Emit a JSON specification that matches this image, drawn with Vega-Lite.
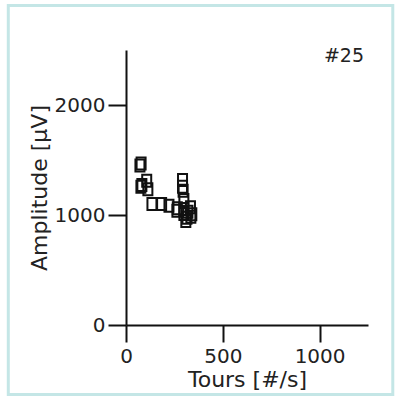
{
  "$schema": "https://vega.github.io/schema/vega-lite/v6.json",
  "autosize": "none",
  "width": 242,
  "height": 275,
  "padding": {"left": 126, "top": 50, "right": 30, "bottom": 75},
  "background": "white",
  "config": {
    "view": {"stroke": null},
    "font": "DejaVu Sans",
    "axis": {
      "domainColor": "#111",
      "domainWidth": 2,
      "tickColor": "#111",
      "tickWidth": 2,
      "tickSize": 17,
      "grid": false,
      "labelFont": "DejaVu Sans",
      "labelFontSize": 20,
      "labelColor": "#222",
      "titleFont": "DejaVu Sans",
      "titleFontSize": 22,
      "titleFontWeight": "normal",
      "titleColor": "#222"
    }
  },
  "datasets": {
    "pts": [
      {"tours": 72, "amp": 1450},
      {"tours": 78, "amp": 1468},
      {"tours": 107, "amp": 1312},
      {"tours": 77, "amp": 1257},
      {"tours": 113, "amp": 1234},
      {"tours": 82, "amp": 1272},
      {"tours": 134, "amp": 1100},
      {"tours": 184, "amp": 1100},
      {"tours": 222, "amp": 1085},
      {"tours": 263, "amp": 1039},
      {"tours": 299, "amp": 1009},
      {"tours": 292, "amp": 1318},
      {"tours": 292, "amp": 1257},
      {"tours": 295, "amp": 1221},
      {"tours": 299, "amp": 1136},
      {"tours": 265, "amp": 1061},
      {"tours": 299, "amp": 1055},
      {"tours": 333, "amp": 1070},
      {"tours": 340, "amp": 1006},
      {"tours": 309, "amp": 945},
      {"tours": 320, "amp": 1030},
      {"tours": 335, "amp": 985},
      {"tours": 315, "amp": 975}
    ],
    "label": [{"tours": 1250, "amp": 2500, "text": "#25"}],
    "frame": [{"x1": -608, "x2": 1378, "y1": 2905, "y2": -632}]
  },
  "layer": [
    {
      "data": {"name": "frame"},
      "mark": {"type": "rect", "fill": "white", "fillOpacity": 0, "stroke": "#c4e6e6", "strokeWidth": 3, "clip": false},
      "encoding": {
        "x": {"field": "x1", "type": "quantitative"},
        "x2": {"field": "x2"},
        "y": {"field": "y1", "type": "quantitative"},
        "y2": {"field": "y2"}
      }
    },
    {
      "data": {"name": "pts"},
      "mark": {
        "type": "point",
        "shape": "M-0.75,-1H0.75V1H-0.75Z",
        "size": 144,
        "filled": false,
        "stroke": "#111",
        "strokeWidth": 2,
        "opacity": 1
      },
      "encoding": {
        "x": {
          "field": "tours",
          "type": "quantitative",
          "scale": {"domain": [0, 1250], "nice": false, "zero": false},
          "axis": {"values": [0, 500, 1000], "format": "d", "title": "Tours [#/s]", "labelPadding": 4, "titlePadding": 3, "labelFlush": false}
        },
        "y": {
          "field": "amp",
          "type": "quantitative",
          "scale": {"domain": [0, 2500], "nice": false, "zero": false},
          "axis": {"values": [0, 1000, 2000], "format": "d", "title": "Amplitude [µV]", "tickSize": 18, "labelPadding": 3, "titlePadding": 3, "labelFlush": false}
        }
      }
    },
    {
      "data": {"name": "label"},
      "mark": {"type": "text", "align": "right", "baseline": "top", "dx": -4, "dy": -3, "fontSize": 19, "font": "DejaVu Sans", "color": "#222"},
      "encoding": {
        "x": {"field": "tours", "type": "quantitative"},
        "y": {"field": "amp", "type": "quantitative"},
        "text": {"field": "text"}
      }
    }
  ]
}
